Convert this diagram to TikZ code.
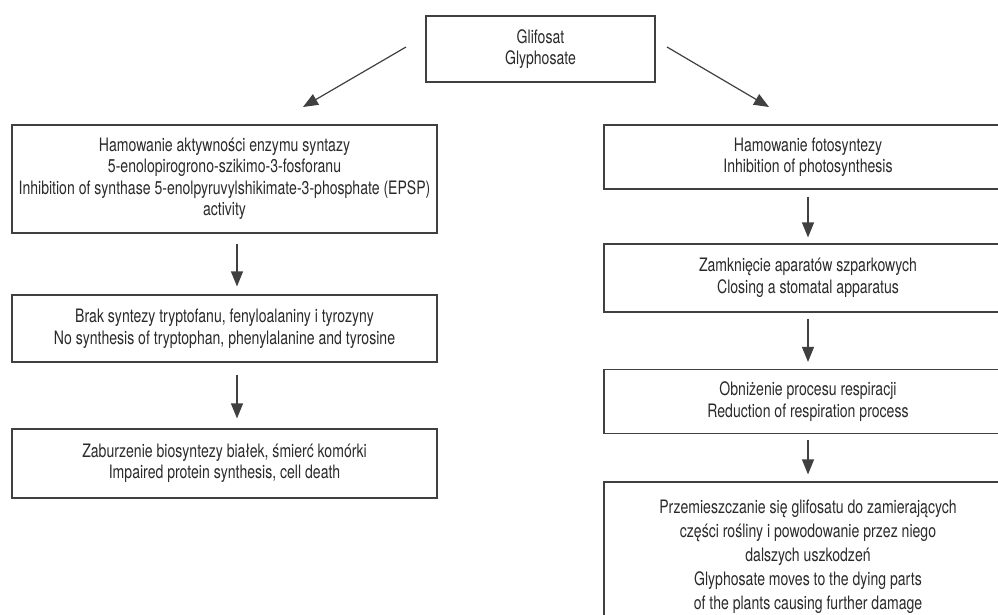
\documentclass[tikz,border=0pt]{standalone}
\usepackage{fontspec}
\setmainfont{TeX Gyre Heros}[FakeStretch=0.76]
\usetikzlibrary{arrows.meta}
\definecolor{txt}{HTML}{2a2a2a}
\definecolor{ln}{HTML}{404040}
\begin{document}
\begin{tikzpicture}[x=1pt,y=-1pt,
  box/.style={draw=ln, line width=1.2pt, align=center, text=txt,
    font=\fontsize{18.5}{21.5}\selectfont, inner sep=0pt},
  arr/.style={draw=ln, line width=1.2pt, -{Triangle[width=12pt,length=15pt]}}]
\useasboundingbox (0,0) rectangle (998,614);
\clip (0,0) rectangle (998,614);
\node[box, minimum width=229pt, minimum height=66pt] (top) at (540.5,49) {Glifosat\\Glyphosate};
\node[box, minimum width=425pt, minimum height=108pt] (L1) at (224.5,179)
  {Hamowanie aktywności enzymu syntazy\\5-enolopirogrono-szikimo-3-fosforanu\\Inhibition of synthase 5-enolpyruvylshikimate-3-phosphate (EPSP)\\activity};
\node[box, minimum width=425pt, minimum height=67pt] (L2) at (224.5,328.5)
  {Brak syntezy tryptofanu, fenyloalaniny i tyrozyny\\No synthesis of tryptophan, phenylalanine and tyrosine};
\node[box, minimum width=425pt, minimum height=69pt] (L3) at (224.5,463.5)
  {Zaburzenie biosyntezy białek, śmierć komórki\\Impaired protein synthesis, cell death};
\node[box, minimum width=408pt, minimum height=64pt] (R1) at (808,157)
  {Hamowanie fotosyntezy\\Inhibition of photosynthesis};
\node[box, minimum width=408pt, minimum height=68pt] (R2) at (808,278)
  {Zamknięcie aparatów szparkowych\\Closing a stomatal apparatus};
\node[box, minimum width=408pt, minimum height=64pt] (R3) at (808,401.5)
  {Obniżenie procesu respiracji\\Reduction of respiration process};
\node[box, minimum width=408pt, minimum height=150pt, font=\fontsize{18.5}{24}\selectfont] (R4) at (808,557)
  {Przemieszczanie się glifosatu do zamierających\\części rośliny i powodowanie przez niego\\dalszych uszkodzeń\\Glyphosate moves to the dying parts\\of the plants causing further damage};
\coordinate (lx) at (237,0);
\coordinate (ls) at (406,47);
\coordinate (le) at (303,107);
\coordinate (rs) at (667,47);
\coordinate (re) at (769,107);
\draw[arr] (ls) -- (le);
\draw[arr] (rs) -- (re);
\draw[arr, shorten <=10pt, shorten >=8pt] (L1.south -| lx) -- (L2.north -| lx);
\draw[arr, shorten <=12pt, shorten >=10pt] (L2.south -| lx) -- (L3.north -| lx);
\draw[arr, shorten <=7pt, shorten >=6pt] (R1) -- (R2);
\draw[arr, shorten <=6pt, shorten >=7pt] (R2) -- (R3);
\draw[arr, shorten <=6pt, shorten >=7pt] (R3) -- (R4);
\end{tikzpicture}
\end{document}
